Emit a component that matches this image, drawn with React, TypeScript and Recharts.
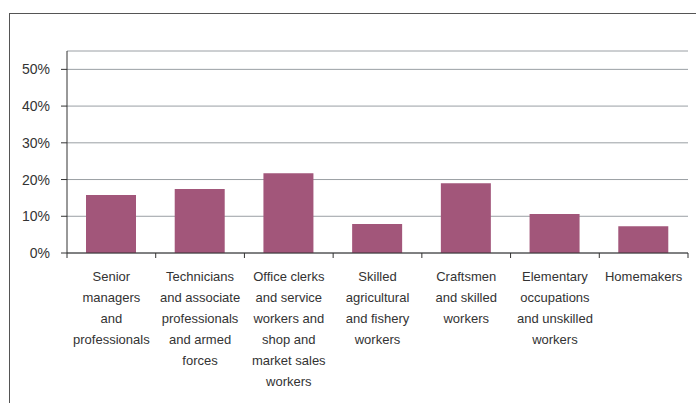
import { Bar, BarChart, CartesianGrid, XAxis, YAxis } from "recharts";

// occupation groups, one entry per bar
const categories = [
  "Senior managers and professionals",
  "Technicians and associate professionals and armed forces",
  "Office clerks and service workers and shop and market sales workers",
  "Skilled agricultural and fishery workers",
  "Craftsmen and skilled workers",
  "Elementary occupations and unskilled workers",
  "Homemakers",
];

// how each category label wraps under the axis
const labelLines = [
  ["Senior", "managers", "and", "professionals"],
  ["Technicians", "and associate", "professionals", "and armed", "forces"],
  ["Office clerks", "and service", "workers and", "shop and", "market sales", "workers"],
  ["Skilled", "agricultural", "and fishery", "workers"],
  ["Craftsmen", "and skilled", "workers"],
  ["Elementary", "occupations", "and unskilled", "workers"],
  ["Homemakers"],
];

// share, in percent
const shares = [15.8, 17.4, 21.7, 7.9, 19.0, 10.6, 7.3];

const yTicks = [0, 10, 20, 30, 40, 50];

const data = categories.map((name, i) => ({ name, share: shares[i] }));

const W = 696;
const H = 403;
const LEFT = 67;
const RIGHT = 8;
const STEP = (W - LEFT - RIGHT) / categories.length;
const TEXT = "#333";
const FONT = "'Liberation Sans', Arial, Helvetica, sans-serif";

function XTick(props: any) {
  const { x, y, index } = props;
  const lines = labelLines[index] || [];
  return (
    <g>
      <line x1={x - STEP / 2} x2={x - STEP / 2} y1={y} y2={y + 5} stroke="#333" />
      {index === categories.length - 1 && (
        <line x1={x + STEP / 2} x2={x + STEP / 2} y1={y} y2={y + 5} stroke="#333" />
      )}
      <text textAnchor="middle" fontSize={13} fill={TEXT} fontFamily={FONT}>
        {lines.map((l, i) => (
          <tspan key={i} x={x} y={y + 23 + i * 21} dy="0.35em">
            {l}
          </tspan>
        ))}
      </text>
    </g>
  );
}

export default function App() {
  return (
    <div
      style={{
        position: "fixed",
        left: 0,
        top: 0,
        width: W,
        height: H,
        overflow: "hidden",
        background: "#fff",
        fontFamily: FONT,
      }}
    >
      <div
        style={{
          position: "absolute",
          left: 9,
          top: 13,
          width: W,
          height: H,
          borderLeft: "1.5px solid #555",
          borderTop: "1.5px solid #555",
        }}
      />
      <div style={{ position: "absolute", left: 0, top: 0 }}>
        <BarChart
          width={W}
          height={H}
          data={data}
          margin={{ top: 51, right: RIGHT, bottom: 0, left: 0 }}
          barSize={50}
        >
          <CartesianGrid vertical={false} stroke="#9a9fa4" strokeWidth={1} />
          <XAxis
            dataKey="name"
            interval={0}
            tickLine={false}
            tickSize={0}
            tickMargin={0}
            height={150}
            axisLine={{ stroke: "#333" }}
            tick={<XTick />}
          />
          <YAxis
            width={LEFT}
            domain={[0, 55]}
            ticks={yTicks}
            tickFormatter={(v) => `${v}%`}
            tickSize={6}
            tickMargin={11}
            axisLine={{ stroke: "#333" }}
            tickLine={{ stroke: "#333" }}
            tick={{ fontSize: 14, fill: TEXT, fontFamily: FONT }}
          />
          <Bar dataKey="share" fill="#a2567a" isAnimationActive={false} />
        </BarChart>
      </div>
    </div>
  );
}
